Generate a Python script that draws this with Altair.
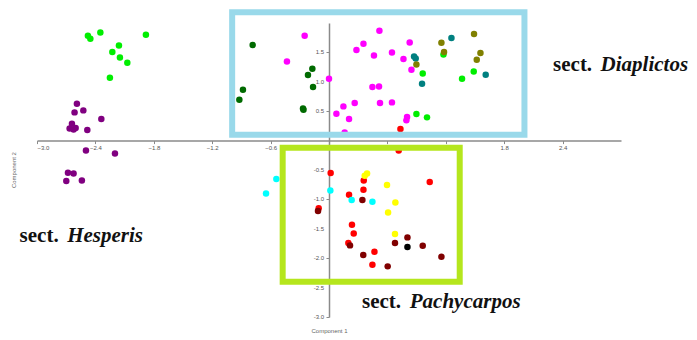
import altair as alt
import pandas as pd

# ---- data ----
lime_x = [-2.477, -2.452, -2.349, -1.881, -2.158, -2.226, -2.148, -2.072, -2.251,
          0.963, 1.176, 1.367, 1.487, 0.898, 1.007]
lime_y = [1.784, 1.733, 1.840, 1.801, 1.619, 1.507, 1.415, 1.325, 1.070,
          1.143, 1.466, 1.053, 1.177, 0.452, 0.395]

purple_x = [-2.590, -2.614, -2.524, -2.339, -2.641, -2.665, -2.624, -2.603, -2.483,
            -2.497, -2.199, -2.682, -2.624, -2.699, -2.539]
purple_y = [0.628, 0.480, 0.514, 0.367, 0.287, 0.207, 0.190, 0.214, 0.180,
            -0.167, -0.218, -0.546, -0.558, -0.687, -0.677]

dkgreen_x = [-0.784, -0.884, -0.921, -0.171, -0.216, -0.164, -0.267, -0.262]
dkgreen_y = [1.626, 0.866, 0.696, 1.223, 1.116, 0.912, 0.545, 0.525]

magenta_x = [-0.250, -0.432, 0.000, 0.518, 0.354, 0.282, 0.462, 0.647, 0.829, 0.765,
             0.847, 0.446, 0.514, 0.524, 0.647, 0.264, 0.148, 0.076, 0.206, 0.161,
             0.802, 0.795]
magenta_y = [1.784, 1.347, 1.053, 1.869, 1.648, 1.541, 1.449, 1.500, 1.670, 1.388,
             1.206, 0.912, 0.922, 0.639, 0.650, 0.639, 0.582, 0.457, 0.367, 0.139,
             0.401, 0.344]

teal_x = [0.874, 0.891, 0.956, 1.258, 1.610]
teal_y = [1.432, 1.398, 0.968, 1.745, 1.121]

olive_x = [0.898, 1.155, 1.182, 1.490, 1.556, 1.518]
olive_y = [1.296, 1.665, 1.507, 1.813, 1.490, 1.376]

red_x = [0.734, 0.716, 0.017, 0.357, 0.354, 0.206, 1.035, 0.236, 0.254, 0.199,
         0.467, 0.446, -0.106]
red_y = [0.197, -0.167, -0.551, -0.677, -0.835, -0.920, -0.704, -1.430, -1.578,
         -1.741, -1.889, -2.111, -1.150]

dkred_x = [0.343, 0.216, 0.352, 0.603, 0.678, 0.806, 0.963, 1.155, -0.113]
dkred_y = [-1.010, -1.782, -1.946, -2.139, -1.741, -1.646, -1.787, -1.974, -1.197]

black_x = [0.806]
black_y = [-1.810]

yellow_x = [0.367, 0.391, 0.596, 0.682, 0.607, 0.678]
yellow_y = [-0.597, -0.558, -0.755, -1.051, -1.221, -1.589]

cyan_x = [-0.541, -0.647, 0.014, 0.233, 0.446]
cyan_y = [-0.653, -0.898, -0.847, -1.010, -1.039]

groups = ["lime", "purple", "dkgreen", "magenta", "teal", "olive",
          "red", "dkred", "black", "yellow", "cyan"]
group_colors = ["#00ee00", "#800080", "#006a00", "#ff00ff", "#008080", "#808000",
                "#ff0000", "#800000", "#000000", "#ffff00", "#00ffff"]
series = {
    "lime": (lime_x, lime_y), "purple": (purple_x, purple_y),
    "dkgreen": (dkgreen_x, dkgreen_y), "magenta": (magenta_x, magenta_y),
    "teal": (teal_x, teal_y), "olive": (olive_x, olive_y),
    "red": (red_x, red_y), "dkred": (dkred_x, dkred_y),
    "black": (black_x, black_y), "yellow": (yellow_x, yellow_y),
    "cyan": (cyan_x, cyan_y),
}

# boxes (data coordinates)
box_names = ["Diaplictos", "Pachycarpos"]
box_x1 = [-0.995, -0.476]
box_x2 = [2.008, 1.343]
box_y1 = [2.184, -0.121]
box_y2 = [0.100, -2.400]
box_colors = ["#99d9ea", "#b5e61d"]

# section labels
lab_sect_x = [2.302, -3.179, 0.339]
lab_name_x = [2.790, -2.690, 0.830]
lab_y = [1.177, -1.731, -2.847]
lab_names = ["Diaplictos", "Hesperis", "Pachycarpos"]

x_ticks = [-3.0, -2.4, -1.8, -1.2, -0.6, 0.6, 1.2, 1.8, 2.4]
y_ticks = [-3.0, -2.5, -2.0, -1.5, -1.0, -0.5, 0.5, 1.0, 1.5]

# ---- build tables ----
rows = []
for g in groups:
    xs, ys = series[g]
    for a, b in zip(xs, ys):
        rows.append({"x": a, "y": b, "group": g})
pts = pd.DataFrame(rows)

boxes = pd.DataFrame({"name": box_names, "x1": box_x1, "x2": box_x2,
                      "y1": box_y1, "y2": box_y2, "color": box_colors})
sect = pd.DataFrame({"x": lab_sect_x, "y": lab_y, "t": ["sect."] * 3})
names = pd.DataFrame({"x": lab_name_x, "y": lab_y, "t": lab_names})
ylab = pd.DataFrame({"x": [0.0] * len(y_ticks), "y": y_ticks,
                     "t": [f"{v:.1f}" for v in y_ticks]})

W, H = 584, 294
xs = alt.Scale(domain=[-3, 3], nice=False, zero=False)
ys = alt.Scale(domain=[-3, 2], nice=False, zero=False)

x_axis = alt.Axis(values=x_ticks, format=".1f", offset=-176.4, grid=False,
                  labelOverlap=False,
                  domainColor="#8a8a8a", domainWidth=1.5, tickColor="#8a8a8a",
                  tickSize=3, labelFontSize=6, labelColor="#555555", labelPadding=1,
                  title="Component 2", titleAngle=270, titleX=-24, titleY=29,
                  titleAlign="center", titleBaseline="middle", titleFontSize=6,
                  titleFontWeight="normal", titleColor="#666666", zindex=0)
y_axis = alt.Axis(values=y_ticks, labels=False, offset=-292, grid=False,
                  domainColor="#8a8a8a", domainWidth=1.5, tickColor="#8a8a8a",
                  tickSize=3,
                  title="Component 1", titleAngle=0, titleX=0, titleY=307.5,
                  titleAlign="center", titleBaseline="middle", titleFontSize=6,
                  titleFontWeight="normal", titleColor="#666666", zindex=0)

points = alt.Chart(pts).mark_circle(size=42, opacity=1).encode(
    x=alt.X("x:Q", scale=xs, axis=x_axis),
    y=alt.Y("y:Q", scale=ys, axis=y_axis),
    color=alt.Color("group:N", scale=alt.Scale(domain=groups, range=group_colors),
                    legend=None),
)

ylab_txt = alt.Chart(ylab).mark_text(fontSize=6, align="right", baseline="middle",
                                     dx=-5, color="#555555").encode(
    x=alt.X("x:Q", scale=xs), y=alt.Y("y:Q", scale=ys), text="t:N")

rects = alt.Chart(boxes).mark_rect(fill=None, strokeWidth=6).encode(
    x=alt.X("x1:Q", scale=xs), x2="x2:Q",
    y=alt.Y("y1:Q", scale=ys), y2="y2:Q",
    stroke=alt.Stroke("color:N", scale=None),
)

sect_txt = alt.Chart(sect).mark_text(font="Liberation Serif", fontSize=21,
                                     fontWeight="bold", align="left",
                                     baseline="alphabetic", color="#111111").encode(
    x=alt.X("x:Q", scale=xs), y=alt.Y("y:Q", scale=ys), text="t:N")
name_txt = alt.Chart(names).mark_text(font="Liberation Serif", fontSize=21,
                                      fontWeight="bold", fontStyle="italic",
                                      align="left", baseline="alphabetic",
                                      color="#111111").encode(
    x=alt.X("x:Q", scale=xs), y=alt.Y("y:Q", scale=ys), text="t:N")

chart = alt.layer(points, ylab_txt, rects, sect_txt, name_txt).properties(
    width=W, height=H,
    autosize=alt.AutoSizeParams(type="none"),
    padding={"left": 29, "top": 15, "right": 68, "bottom": 22},
).configure_view(stroke=None)

chart.save("out.html", embed_options={"renderer": "svg", "actions": False})
